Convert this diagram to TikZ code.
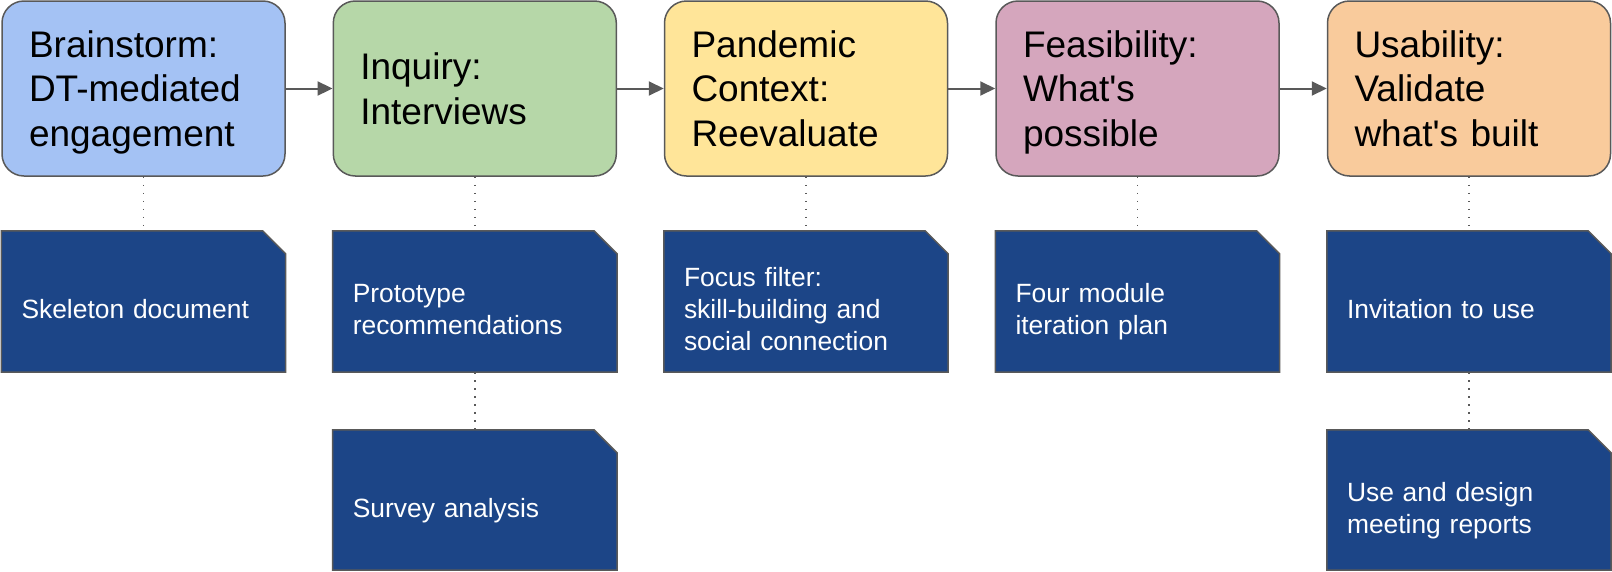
\documentclass[tikz,border=0pt]{standalone}
\usepackage{fontspec}
\setmainfont{Liberation Sans}[Ligatures=TeXOff]
\usetikzlibrary{arrows.meta,backgrounds}
\definecolor{cblue}{HTML}{A4C2F4}
\definecolor{cgreen}{HTML}{B6D7A8}
\definecolor{cyellow}{HTML}{FFE599}
\definecolor{cpink}{HTML}{D5A6BD}
\definecolor{corange}{HTML}{F9CB9C}
\definecolor{docblue}{HTML}{1C4587}
\definecolor{edge}{HTML}{595959}
\tikzset{
 stage/.style={draw=edge, line width=1.5pt, rounded corners=22pt, minimum width=283pt, minimum height=175pt, text width=229pt, inner xsep=27pt, inner ysep=0pt, align=left, font=\fontsize{37}{44.5}\selectfont,
   execute at begin node={\rule{0pt}{0.716em}}, execute at end node={\par\kern-\prevdepth}},
 doc/.style={minimum height=141pt, text width=244pt, inner xsep=20pt, inner ysep=0pt, align=left, text=white, font=\fontsize{26.4}{32}\selectfont,
   execute at begin node={\rule{0pt}{\dimexpr 0.716em+15.6pt\relax}}, execute at end node={\par\kern-\prevdepth}},
 flow/.style={draw=edge, line width=2pt, -{Triangle[length=15pt,width=14pt]}},
 link/.style={draw=edge, line width=1.6pt, dash pattern=on 1.6pt off 6.4pt},
 docedge/.style={draw=edge, line width=1.5pt, fill=docblue},
}
\newcommand\docshape[1]{\path[docedge] (#1.north west) -- ([xshift=-23pt]#1.north east) -- ([yshift=-23pt]#1.north east) -- (#1.south east) -- (#1.south west) -- cycle;}
\begin{document}
\begin{tikzpicture}[x=1pt,y=-1pt]
\useasboundingbox (0,0) rectangle (1612,571);
\node[stage, fill=cblue] (b1) at (143.5,88.5) {Brainstorm:\\DT-mediated\\engagement};
\node[stage, fill=cgreen] (b2) at (474.8,88.5) {Inquiry:\\Interviews};
\node[stage, fill=cyellow] (b3) at (806,88.5) {Pandemic\\Context:\\Reevaluate};
\node[stage, fill=cpink] (b4) at (1137.5,88.5) {Feasibility:\\What's\\possible};
\node[stage, fill=corange] (b5) at (1469,88.5) {Usability:\\Validate\\what's built};
\node[doc] (d1) at (143.5,301.5) {Skeleton document};
\node[doc] (d2) at (474.8,301.5) {Prototype\\recommendations};
\node[doc] (d3) at (806,301.5) {Focus filter:\\skill-building and\\social connection};
\node[doc] (d4) at (1137.5,301.5) {Four module\\iteration plan};
\node[doc] (d5) at (1469,301.5) {Invitation to use};
\node[doc, minimum height=140pt] (d2b) at (474.8,500) {Survey analysis};
\node[doc, minimum height=140pt] (d5b) at (1469,500) {Use and design\\meeting reports};
\begin{scope}[on background layer]
\docshape{d1}\docshape{d2}\docshape{d3}\docshape{d4}\docshape{d5}\docshape{d2b}\docshape{d5b}
\end{scope}
\draw[flow] (b1) -- (b2);
\draw[flow] (b2) -- (b3);
\draw[flow] (b3) -- (b4);
\draw[flow] (b4) -- (b5);
\draw[link] (b1.south) -- (d1.north);
\draw[link] (b2.south) -- (d2.north);
\draw[link] (b3.south) -- (d3.north);
\draw[link] (b4.south) -- (d4.north);
\draw[link] (b5.south) -- (d5.north);
\draw[link] (d2.south) -- (d2b.north);
\draw[link] (d5.south) -- (d5b.north);
\end{tikzpicture}
\end{document}
